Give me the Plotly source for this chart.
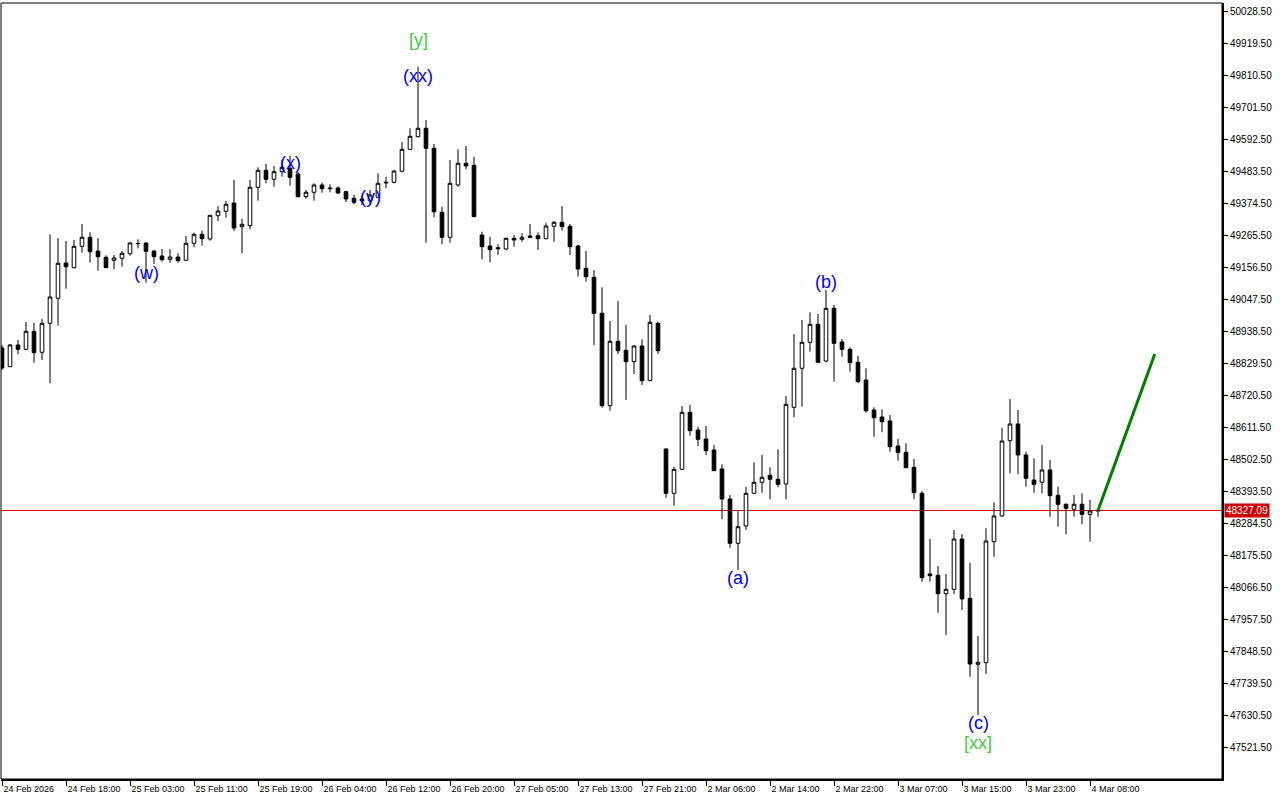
import plotly.graph_objects as go

# ---------------- data (H1 bars) ----------------
open_ = [48880.6, 48816.9, 48890.8, 48876.2, 48937.5, 48866.0, 48964.8, 49049.9, 49170.2, 49154.1,
         49227.0, 49257.7, 49211.0, 49189.6, 49179.4, 49186.2, 49201.8, 49235.9, 49238.3, 49211.0,
         49194.0, 49182.8, 49190.6, 49179.4, 49237.3, 49267.9, 49251.9, 49331.3, 49346.3, 49374.5,
         49293.8, 49297.2, 49428.0, 49485.9, 49455.3, 49481.1, 49492.7, 49473.3, 49396.0, 49411.0,
         49435.8, 49423.2, 49425.6, 49413.0, 49390.5, 49388.2, 49382.4, 49393.9, 49442.7, 49445.0,
         49482.5, 49557.4, 49600.4, 49629.0, 49560.9, 49342.9, 49257.7, 49435.8, 49509.8, 49502.9,
         49265.5, 49228.1, 49222.3, 49217.8, 49254.3, 49250.9, 49262.1, 49263.2, 49252.9, 49295.2,
         49308.8, 49295.2, 49228.1, 49152.1, 49121.4, 48998.8, 48684.1, 48903.4, 48872.8, 48834.0,
         48887.4, 48769.2, 48964.8, 48536.6, 48385.7, 48467.4, 48661.6, 48601.3, 48570.7, 48533.2,
         48468.5, 48366.3, 48215.4, 48274.3, 48385.7, 48423.2, 48447.0, 48433.4, 48417.4, 48678.6,
         48811.5, 48900.0, 48961.4, 48836.3, 49015.8, 48901.1, 48876.2, 48831.9, 48771.6, 48669.4,
         48645.6, 48632.0, 48546.8, 48525.4, 48474.2, 48385.7, 48110.8, 48106.4, 48043.7, 48058.7,
         48230.0, 48028.0, 47803.2, 47808.7, 48220.8, 48308.4, 48564.8, 48621.7, 48516.2, 48431.0,
         48423.2, 48465.1, 48378.9, 48348.2, 48331.2, 48348.2, 48314.2, 48325.4]
high = [48890.8, 48894.2, 48907.9, 48969.2, 48966.8, 48979.4, 49267.9, 49255.3, 49245.1, 49248.5,
        49303.0, 49274.7, 49255.3, 49196.4, 49197.4, 49211.0, 49241.7, 49250.9, 49240.0, 49212.7,
        49217.8, 49217.8, 49203.2, 49262.1, 49273.4, 49280.2, 49333.6, 49364.3, 49381.3, 49452.9,
        49321.0, 49452.9, 49496.1, 49507.4, 49500.6, 49521.0, 49534.6, 49480.1, 49418.8, 49441.6,
        49443.7, 49438.2, 49431.4, 49416.4, 49402.8, 49398.4, 49418.8, 49475.7, 49464.1, 49486.9,
        49582.3, 49629.0, 49838.8, 49657.2, 49575.5, 49361.9, 49521.0, 49557.4, 49568.7, 49532.2,
        49276.8, 49259.7, 49233.9, 49256.3, 49265.5, 49271.3, 49303.0, 49274.7, 49305.4, 49313.2,
        49364.3, 49303.0, 49231.5, 49211.0, 49146.3, 49087.4, 48972.6, 49040.7, 48959.0, 48890.8,
        48910.2, 48993.0, 48970.2, 48539.0, 48476.3, 48683.1, 48686.5, 48612.6, 48614.9, 48550.2,
        48484.5, 48379.9, 48328.8, 48407.2, 48491.3, 48516.2, 48474.2, 48535.6, 48717.1, 48928.3,
        48976.0, 49002.2, 48996.4, 49078.2, 49027.1, 48911.3, 48883.0, 48853.4, 48811.5, 48678.6,
        48671.8, 48652.4, 48570.7, 48556.0, 48502.5, 48393.5, 48230.0, 48138.1, 48110.8, 48260.7,
        48247.0, 48149.3, 47899.6, 48266.5, 48355.0, 48609.1, 48706.9, 48669.4, 48527.4, 48504.9,
        48550.2, 48499.1, 48408.2, 48351.6, 48379.9, 48385.7, 48362.9, 48328.8]
low = [48805.7, 48815.9, 48859.2, 48873.8, 48830.6, 48839.7, 48760.4, 48956.6, 49082.6, 49152.1,
       49205.2, 49171.2, 49143.9, 49153.1, 49148.7, 49157.5, 49195.0, 49220.2, 49103.0, 49166.7,
       49174.6, 49171.2, 49171.2, 49178.7, 49223.6, 49229.1, 49246.1, 49313.2, 49324.4, 49279.2,
       49203.2, 49285.0, 49382.4, 49441.6, 49430.1, 49464.1, 49433.5, 49393.3, 49389.2, 49382.4,
       49409.6, 49411.0, 49405.2, 49377.9, 49370.1, 49367.7, 49367.7, 49393.3, 49424.6, 49441.6,
       49481.8, 49556.8, 49598.3, 49239.3, 49325.8, 49233.9, 49239.3, 49430.1, 49489.3, 49326.9,
       49182.8, 49172.5, 49197.4, 49214.4, 49225.7, 49242.7, 49256.3, 49214.4, 49250.9, 49242.7,
       49280.2, 49197.4, 49123.5, 49106.5, 48890.8, 48677.3, 48667.1, 48860.2, 48703.5, 48792.1,
       48754.6, 48768.2, 48860.2, 48370.7, 48343.5, 48466.7, 48581.9, 48546.8, 48516.2, 48461.7,
       48297.1, 48200.4, 48124.4, 48260.7, 48385.0, 48387.7, 48365.3, 48406.1, 48365.3, 48644.6,
       48680.7, 48868.0, 48831.2, 48831.9, 48765.8, 48851.0, 48799.9, 48760.4, 48660.2, 48578.5,
       48593.5, 48527.4, 48496.7, 48471.9, 48365.3, 48084.6, 48084.6, 47979.0, 47903.0, 48042.7,
       47988.2, 47761.0, 47630.5, 47770.2, 48169.7, 48306.0, 48453.8, 48450.4, 48408.2, 48387.7,
       48385.7, 48306.0, 48271.9, 48246.0, 48306.0, 48280.1, 48220.8, 48306.0]
close = [48812.5, 48890.8, 48876.2, 48937.5, 48864.6, 48964.8, 49054.3, 49169.1, 49157.5, 49227.0,
         49257.7, 49208.6, 49191.6, 49154.1, 49187.2, 49203.2, 49238.3, 49236.6, 49210.0, 49191.6,
         49181.4, 49190.6, 49178.0, 49237.3, 49267.9, 49252.9, 49332.6, 49347.3, 49370.1, 49289.4,
         49302.0, 49428.0, 49485.9, 49455.3, 49481.1, 49496.1, 49462.1, 49396.0, 49411.0, 49435.8,
         49423.2, 49424.9, 49408.6, 49388.2, 49376.9, 49381.3, 49401.8, 49441.6, 49445.0, 49483.5,
         49557.4, 49601.7, 49629.0, 49560.9, 49344.9, 49257.7, 49441.6, 49509.8, 49500.6, 49327.9,
         49225.7, 49215.5, 49218.9, 49254.3, 49248.5, 49257.7, 49257.7, 49252.9, 49296.2, 49308.8,
         49293.8, 49225.7, 49149.7, 49123.5, 48998.8, 48684.1, 48903.4, 48871.4, 48834.0, 48887.4,
         48769.2, 48968.2, 48871.4, 48385.7, 48467.4, 48661.6, 48599.0, 48569.6, 48530.8, 48462.7,
         48366.3, 48215.4, 48271.9, 48385.7, 48423.2, 48440.2, 48433.4, 48416.3, 48688.8, 48811.5,
         48900.0, 48961.4, 48831.9, 49015.8, 48896.6, 48876.2, 48830.6, 48765.8, 48667.1, 48643.2,
         48629.6, 48544.4, 48524.0, 48472.9, 48387.7, 48098.2, 48105.0, 48043.7, 48058.7, 48230.0,
         48025.7, 47804.2, 47810.0, 48223.2, 48308.4, 48563.8, 48621.7, 48516.2, 48436.8, 48416.3,
         48465.1, 48377.5, 48348.2, 48334.6, 48348.2, 48314.2, 48325.4, 48327.09]
bar_index = list(range(len(open_)))

tick_bars = [0, 8, 16, 24, 32, 40, 48, 56, 64, 72, 80, 88, 96, 104, 112, 120, 128, 136]
tick_labels = ["24 Feb 2026", "24 Feb 18:00", "25 Feb 03:00", "25 Feb 11:00", "25 Feb 19:00",
               "26 Feb 04:00", "26 Feb 12:00", "26 Feb 20:00", "27 Feb 05:00", "27 Feb 13:00",
               "27 Feb 21:00", "2 Mar 06:00", "2 Mar 14:00", "2 Mar 22:00", "3 Mar 07:00",
               "3 Mar 15:00", "3 Mar 23:00", "4 Mar 08:00"]

price_ticks = [50028.5, 49919.5, 49810.5, 49701.5, 49592.5, 49483.5, 49374.5, 49265.5, 49156.5,
               49047.5, 48938.5, 48829.5, 48720.5, 48611.5, 48502.5, 48393.5, 48284.5, 48175.5,
               48066.5, 47957.5, 47848.5, 47739.5, 47630.5, 47521.5]

current_price = 48327.09

forecast_bars = [137, 144.1]
forecast_prices = [48327.09, 48860.2]

wave_texts = ["[y]", "(xx)", "(x)", "(y)", "(w)", "(a)", "(b)", "(c)", "[xx]"]
wave_bars = [52, 52, 36, 46, 18, 92, 103, 122, 122]
wave_prices = [49929.7, 49807.1, 49510.7, 49395.0, 49136.1, 48097.2, 49105.4, 47603.3, 47535.2]
wave_colors = ["#3ecc3e", "#0000ff", "#0000ff", "#0000ff", "#0000ff", "#0000ff", "#0000ff",
               "#0000ff", "#3ecc3e"]

# ---------------- figure ----------------
fig = go.Figure()

fig.add_trace(go.Candlestick(
    x=bar_index, open=open_, high=high, low=low, close=close,
    increasing=dict(line=dict(color="black", width=1), fillcolor="white"),
    decreasing=dict(line=dict(color="black", width=1), fillcolor="black"),
    whiskerwidth=0, hoverinfo="skip", showlegend=False,
))

fig.add_trace(go.Scatter(
    x=forecast_bars, y=forecast_prices, mode="lines",
    line=dict(color="#008000", width=3), hoverinfo="skip", showlegend=False,
))

annotations = []
for t, b, p, c in zip(wave_texts, wave_bars, wave_prices, wave_colors):
    annotations.append(dict(x=b, y=p, xref="x", yref="y", text=t, showarrow=False,
                            font=dict(family="Liberation Sans, Arial, sans-serif", size=18, color=c),
                            xanchor="center", yanchor="middle"))

annotations.append(dict(x=1, y=current_price, xref="paper", yref="y",
                        text=f"{current_price:.2f}", showarrow=False, xanchor="left",
                        yanchor="middle", xshift=2, bgcolor="#cc0000", borderpad=1,
                        font=dict(family="Liberation Sans, Arial, sans-serif", size=10,
                                  color="white")))

shapes = [
    dict(type="line", xref="paper", yref="y", x0=0, x1=1, y0=current_price, y1=current_price,
         line=dict(color="#e00000", width=1), layer="below"),
    dict(type="rect", xref="paper", yref="paper", x0=0, x1=1, y0=0, y1=1,
         line=dict(color="black", width=1)),
]

fig.update_layout(
    width=1280, height=800,
    margin=dict(l=1, r=58, t=3, b=21, autoexpand=False),
    paper_bgcolor="white", plot_bgcolor="white",
    showlegend=False,
    boxgap=0.35,
    annotations=annotations,
    shapes=shapes,
    font=dict(family="Liberation Sans, Arial, sans-serif", size=10, color="black"),
    xaxis=dict(
        range=[-0.125, 152.5], rangeslider=dict(visible=False),
        tickmode="array", tickvals=tick_bars, ticktext=tick_labels,
        ticks="outside", ticklen=5, tickcolor="black", tickwidth=1,
        ticklabelposition="outside right", tickangle=0, automargin=False,
        showgrid=False, zeroline=False,
        showline=True, linecolor="black", linewidth=2,
        tickfont=dict(size=9, color="black"),
    ),
    yaxis=dict(
        side="right", range=[47412.5, 50055.75], automargin=False,
        tickmode="array", tickvals=price_ticks, tickformat=".2f",
        ticks="outside", ticklen=4, tickcolor="black", tickwidth=1,
        showgrid=False, zeroline=False,
        showline=True, linecolor="black", linewidth=2,
        tickfont=dict(size=10, color="black"),
    ),
)

fig.write_html("out.html", config={"displayModeBar": False},
               post_script="document.body.style.margin='0';document.body.style.overflow='hidden';")
